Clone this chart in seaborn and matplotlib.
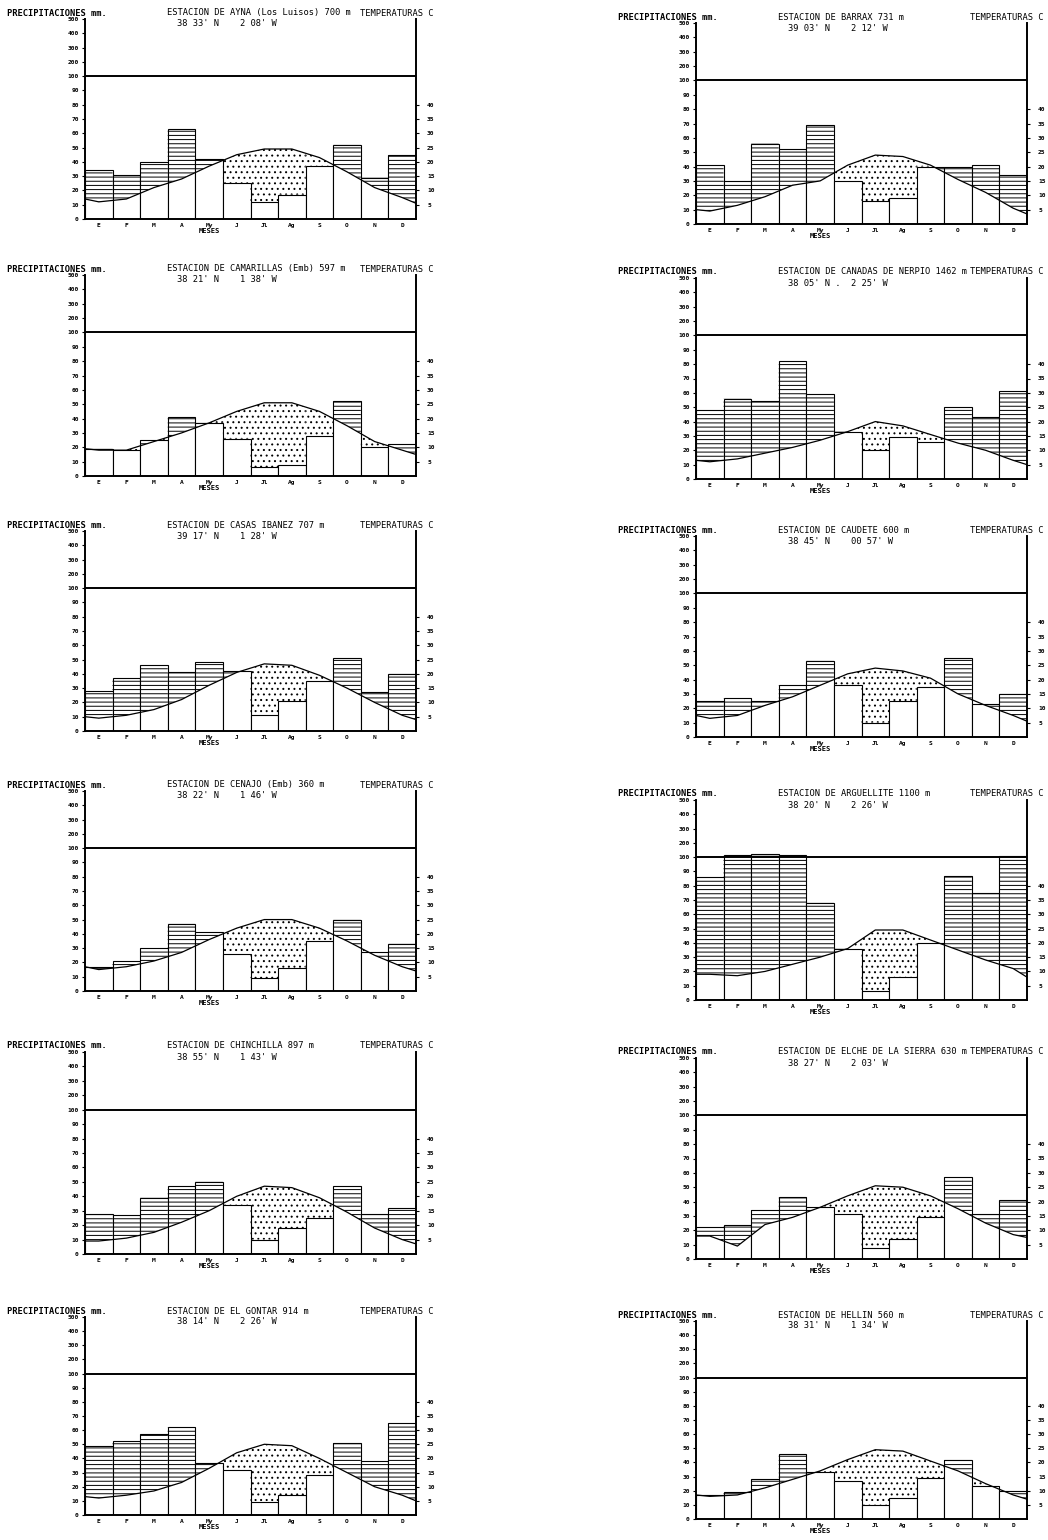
import numpy as np
import matplotlib
matplotlib.use('Agg')
import matplotlib.pyplot as plt
from matplotlib.ticker import NullLocator
import seaborn as sns

meses = ["E", "F", "M", "A", "My", "J", "Jl", "Ag", "S", "O", "N", "D"]
prec_ticks = [0, 10, 20, 30, 40, 50, 60, 70, 80, 90, 100, 200, 300, 400, 500]
temp_ticks = [5, 10, 15, 20, 25, 30, 35, 40]

# precipitaciones (mm), temperaturas medias (C) y valor de la curva en los bordes (C)
p_ayna = [34, 31, 40, 63, 42, 25, 12, 17, 37, 52, 29, 45]
t_ayna = [6, 7, 11, 14, 18.5, 22.5, 24.5, 24.5, 21.5, 16.5, 11, 7.5]
b_ayna = [7, 5.5]

p_barrax = [41, 30, 56, 52, 69, 30, 16, 18, 40, 40, 41, 34]
t_barrax = [4.5, 6.5, 9.5, 13.5, 15, 20.5, 24, 23.5, 20.5, 15.5, 11, 5.5]
b_barrax = [5, 3.5]

p_camarillas = [19, 18, 25, 41, 37, 26, 6, 8, 28, 52, 20, 22]
t_camarillas = [9, 9, 12, 15, 18.5, 22.5, 25.5, 25.5, 22.5, 17.5, 12, 9]
b_camarillas = [9.5, 7.5]

p_nerpio = [48, 56, 54, 82, 59, 33, 20, 29, 26, 50, 43, 61]
t_nerpio = [6, 7, 9, 11, 13.5, 16.5, 20, 18.5, 15.5, 12.5, 10, 6.5]
b_nerpio = [6.5, 5]

p_casas = [28, 37, 46, 41, 48, 42, 11, 21, 35, 51, 27, 40]
t_casas = [4.5, 5.5, 7.5, 11, 16, 20.5, 23.5, 23, 19.5, 15, 10, 5.5]
b_casas = [5, 4]

p_caudete = [25, 27, 25, 36, 53, 36, 10, 25, 35, 55, 23, 30]
t_caudete = [6.5, 7.5, 11, 14, 18, 22, 24, 23, 20.5, 15, 11, 7.5]
b_caudete = [7.5, 5.5]

p_cenajo = [17, 21, 30, 47, 41, 26, 9, 16, 35, 50, 27, 33]
t_cenajo = [7.5, 8.5, 10.5, 13.5, 18, 22, 25, 25, 22, 17.5, 12.5, 8.5]
b_cenajo = [8.5, 7]

p_arguellite = [86, 112, 125, 112, 68, 36, 6, 16, 40, 87, 75, 107]
t_arguellite = [9, 8.5, 10, 12.5, 15, 18, 24.5, 24.5, 21, 17.5, 14, 11]
b_arguellite = [9, 8]

p_chinchilla = [28, 27, 39, 47, 50, 34, 10, 18, 25, 47, 28, 32]
t_chinchilla = [4.5, 5.5, 7.5, 11, 15, 20, 23.5, 23, 19.5, 14.5, 9, 5]
b_chinchilla = [4.5, 3.5]

p_elche = [22, 24, 34, 43, 36, 31, 8, 14, 29, 57, 31, 41]
t_elche = [8, 4.5, 12, 14.5, 18, 22, 25.5, 25, 22, 17.5, 12.5, 8.5]
b_elche = [8, 7.5]

p_gontar = [49, 52, 57, 62, 37, 32, 9, 14, 28, 51, 38, 65]
t_gontar = [6, 7, 8.5, 11.5, 16.5, 22, 25, 24.5, 20, 15, 10, 7]
b_gontar = [6.5, 5]

p_hellin = [17, 19, 28, 46, 33, 27, 10, 15, 29, 42, 23, 20]
t_hellin = [8, 8.5, 11, 14, 17, 21, 24.5, 24, 20.5, 17, 12.5, 8.5]
b_hellin = [8.5, 7]

# columna izquierda y derecha, de arriba abajo
col_izq = [
    ("ESTACION DE AYNA (Los Luisos) 700 m", "38 33' N    2 08' W", p_ayna, t_ayna, b_ayna),
    ("ESTACION DE CAMARILLAS (Emb) 597 m", "38 21' N    1 38' W", p_camarillas, t_camarillas, b_camarillas),
    ("ESTACION DE CASAS IBANEZ 707 m", "39 17' N    1 28' W", p_casas, t_casas, b_casas),
    ("ESTACION DE CENAJO (Emb) 360 m", "38 22' N    1 46' W", p_cenajo, t_cenajo, b_cenajo),
    ("ESTACION DE CHINCHILLA 897 m", "38 55' N    1 43' W", p_chinchilla, t_chinchilla, b_chinchilla),
    ("ESTACION DE EL GONTAR 914 m", "38 14' N    2 26' W", p_gontar, t_gontar, b_gontar),
]
col_der = [
    ("ESTACION DE BARRAX 731 m", "39 03' N    2 12' W", p_barrax, t_barrax, b_barrax),
    ("ESTACION DE CANADAS DE NERPIO 1462 m", "38 05' N .  2 25' W", p_nerpio, t_nerpio, b_nerpio),
    ("ESTACION DE CAUDETE 600 m", "38 45' N    00 57' W", p_caudete, t_caudete, b_caudete),
    ("ESTACION DE ARGUELLITE 1100 m", "38 20' N    2 26' W", p_arguellite, t_arguellite, b_arguellite),
    ("ESTACION DE ELCHE DE LA SIERRA 630 m", "38 27' N    2 03' W", p_elche, t_elche, b_elche),
    ("ESTACION DE HELLIN 560 m", "38 31' N    1 34' W", p_hellin, t_hellin, b_hellin),
]

# posicion (pixeles) del 500 y del 0 de cada fila
filas_izq = [(19, 219), (275, 476), (531, 731), (791, 991), (1052, 1254), (1317, 1515)]
filas_der = [(23, 224), (278, 479), (536, 737), (800, 1000), (1058, 1259), (1321, 1519)]

W, H = 1048, 1540
PX = 0.72  # pt por pixel a dpi 100

sns.set_style("ticks", {"axes.edgecolor": "black", "xtick.color": "black",
                        "ytick.color": "black", "text.color": "black",
                        "axes.labelcolor": "black"})
plt.rcParams['font.family'] = ['DejaVu Sans Mono', 'DejaVu Sans']
plt.rcParams['hatch.color'] = 'black'
plt.rcParams['hatch.linewidth'] = 0.7


# escala partida: 0-100 cada 10 mm, luego 100-500 cada 100 mm
def fwd(p):
    p = np.asarray(p, dtype=float)
    return np.where(p <= 100, p / 10.0, 10 + (p - 100) / 100.0)


def inv(y):
    y = np.asarray(y, dtype=float)
    return np.where(y <= 10, y * 10.0, 100 + (y - 10) * 100.0)


def climograma(ax, titulo, coords, p, t, bordes):
    p = np.array(p, dtype=float)
    t2 = 2 * np.array(t, dtype=float)   # P = 2T (Gaussen)
    sns.barplot(x=meses, y=p, color='white', edgecolor='black', linewidth=0.8,
                width=1, saturation=1, errorbar=None, ax=ax, zorder=1)

    x_lin = np.concatenate([[-0.5], np.arange(12), [11.5]])
    y_lin = np.concatenate([[2 * bordes[0]], t2, [2 * bordes[1]]])
    for i in range(12):
        xs = np.linspace(i - 0.5, i + 0.5, 41)
        c = np.interp(xs, x_lin, y_lin)
        pp = np.full_like(xs, p[i])
        # periodo humedo: rayado horizontal
        ax.fill_between(xs, c, pp, where=pp >= c, interpolate=True, facecolor='none',
                        edgecolor='black', hatch='----', linewidth=0, zorder=2)
        # periodo seco: punteado
        ax.fill_between(xs, pp, c, where=c > pp, interpolate=True, facecolor='none',
                        edgecolor='black', hatch='...', linewidth=0, zorder=2)
    ax.plot(x_lin, y_lin, color='black', lw=0.9, zorder=4)
    ax.axhline(100, color='black', lw=1.4, zorder=4)

    ax.set_yscale('function', functions=(fwd, inv))
    ax.set_ylim(0, 500)
    ax.set_xlim(-0.5, 11.5)
    ax.set_yticks(prec_ticks)
    ax.set_yticklabels([str(v) for v in prec_ticks])
    ax.yaxis.set_minor_locator(NullLocator())
    ax.set_xticks(range(12))
    ax.set_xticklabels(meses)
    ax.set_ylabel('')
    ax.tick_params(axis='y', labelsize=4.5, length=2.5, width=0.8, pad=2)
    ax.tick_params(axis='x', labelsize=4.5, length=0, pad=3)
    for lab in ax.get_xticklabels() + ax.get_yticklabels():
        lab.set_fontweight('bold')
    ax.set_xlabel('MESES', fontsize=5, fontweight='bold')
    ax.xaxis.set_label_coords(0.375, -0.045)

    ax.spines['top'].set_visible(False)
    for s in ['left', 'right', 'bottom']:
        ax.spines[s].set_linewidth(1.4)
        ax.spines[s].set_color('black')

    # eje de temperaturas a la derecha
    tax = ax.twinx()
    tax.set_yscale('function', functions=(fwd, inv))
    tax.set_ylim(0, 500)
    tax.set_yticks([2 * v for v in temp_ticks])
    tax.set_yticklabels([str(v) for v in temp_ticks])
    tax.yaxis.set_minor_locator(NullLocator())
    tax.tick_params(axis='y', labelsize=4.5, length=2, width=0.8, pad=6)
    for lab in tax.get_yticklabels():
        lab.set_fontweight('bold')
    for s in tax.spines.values():
        s.set_visible(False)

    # cabecera
    ax.annotate('PRECIPITACIONES mm.', xy=(0, 1), xycoords='axes fraction',
                xytext=(-78 * PX, 6 * PX), textcoords='offset points',
                ha='left', va='center', fontsize=6.3, fontweight='bold')
    ax.annotate(titulo, xy=(0, 1), xycoords='axes fraction',
                xytext=(82 * PX, 6 * PX), textcoords='offset points',
                ha='left', va='center', fontsize=6.3)
    ax.annotate('TEMPERATURAS C', xy=(1, 1), xycoords='axes fraction',
                xytext=(17 * PX, 6 * PX), textcoords='offset points',
                ha='right', va='center', fontsize=6.3)
    ax.annotate(coords, xy=(0, 1), xycoords='axes fraction',
                xytext=(92 * PX, -5 * PX), textcoords='offset points',
                ha='left', va='center', fontsize=6.3)


fig = plt.figure(figsize=(W / 100, H / 100), dpi=100)

for x0, x1, estaciones, filas in [(85, 416, col_izq, filas_izq), (696, 1027, col_der, filas_der)]:
    for (titulo, coords, p, t, b), (top, bot) in zip(estaciones, filas):
        ax = fig.add_axes([x0 / W, 1 - bot / H, (x1 - x0) / W, (bot - top) / H])
        climograma(ax, titulo, coords, p, t, b)

fig.savefig('out.png', dpi=100, facecolor='white')
